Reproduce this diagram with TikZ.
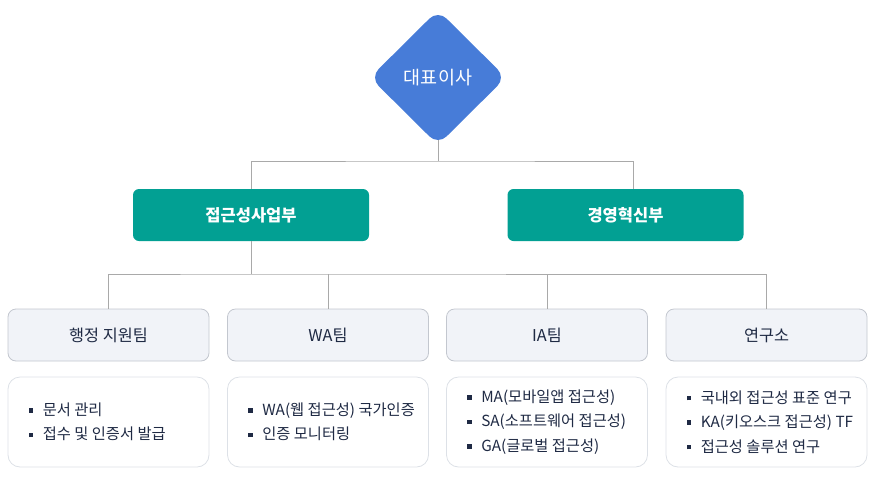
\documentclass[tikz,border=0pt]{standalone}
\usepackage{fontspec}
\setmainfont{Noto Sans CJK KR}
\usetikzlibrary{shapes.geometric}
\definecolor{ceoblue}{HTML}{477CD8}
\definecolor{deptteal}{HTML}{02A093}
\definecolor{teamfill}{HTML}{F1F3F8}
\definecolor{teamline}{HTML}{C3C7CF}
\definecolor{dutyline}{HTML}{DDE1E7}
\definecolor{linkgray}{HTML}{A9A9A9}
\definecolor{navy}{HTML}{1F2A44}
\newcommand{\sqbul}{{\color{navy}\rule[2.8pt]{4.5pt}{4.5pt}}\hspace{9.5pt}}

\begin{document}
\begin{tikzpicture}[x=1pt, y=-1pt]
	\tikzstyle{every node}=[font=\fontsize{15.3}{24.5}\selectfont, text=navy]
	\tikzstyle{ceo}=[diamond, fill=ceoblue, rounded corners=12pt, minimum width=136pt, minimum height=135pt, inner sep=0pt, text=white, font=\fontsize{18.5}{22}\selectfont]
	\tikzstyle{dept}=[rectangle, fill=deptteal, rounded corners=6pt, minimum width=236pt, minimum height=52pt, text=white, font=\fontsize{16.5}{20}\selectfont\bfseries]
	\tikzstyle{team}=[rectangle, draw=teamline, line width=0.8pt, fill=teamfill, rounded corners=8pt, minimum width=201pt, minimum height=52pt, font=\fontsize{16.3}{20}\selectfont]
	\tikzstyle{duty}=[rectangle, draw=dutyline, line width=0.8pt, fill=white, rounded corners=12pt, minimum width=201pt, minimum height=90pt]
	\tikzstyle{items}=[anchor=west, align=left, inner sep=0pt]
	\tikzstyle{link}=[draw=linkgray, line width=1pt]

	\useasboundingbox (0,0) rectangle (877,482);

	%top
	\node[ceo] (ceo) at (438,77.5) {대표이사};
	\node[dept] (access) at (251,215) {접근성사업부};
	\node[dept] (mgmt) at (625.5,215) {경영혁신부};

	%teams
	\foreach \i/\x/\title in {1/108.5/행정 지원팀, 2/328/WA팀, 3/547/IA팀, 4/766.5/연구소} {
		\node[team] (team\i) at (\x,335) {\title};
		\node[duty] (duty\i) at (\x,422) {};
	}

	%duties
	\node[items] (items1) at ([xshift=21pt]duty1.west) {\sqbul 문서 관리\\ \sqbul 접수 및 인증서 발급};
	\node[items] (items2) at ([xshift=21pt]duty2.west) {\sqbul WA(웹 접근성) 국가인증\\ \sqbul 인증 모니터링};
	\node[items] (items3) at ([xshift=21pt]duty3.west) {\sqbul MA(모바일앱 접근성)\\ \sqbul SA(소프트웨어 접근성)\\ \sqbul GA(글로벌 접근성)};
	\node[items] (items4) at ([xshift=21pt]duty4.west) {\sqbul 국내외 접근성 표준 연구\\ \sqbul KA(키오스크 접근성) TF\\ \sqbul 접근성 솔루션 연구};

	%links
	\coordinate (fork1) at (438,161);
	\draw[link] ([yshift=5pt]ceo.south) -- (fork1);
	\draw[link] (access.north) |- (fork1) -| ([xshift=7.5pt]mgmt.north);
	\coordinate (fork2) at (251,274);
	\draw[link] (access.south) -- (fork2);
	\draw[link] (team1.north) |- (fork2) -| (team4.north);
	\draw[link] (team2.north) -- (team2.north |- fork2);
	\draw[link] (team3.north) -- (team3.north |- fork2);
\end{tikzpicture}
\end{document}
